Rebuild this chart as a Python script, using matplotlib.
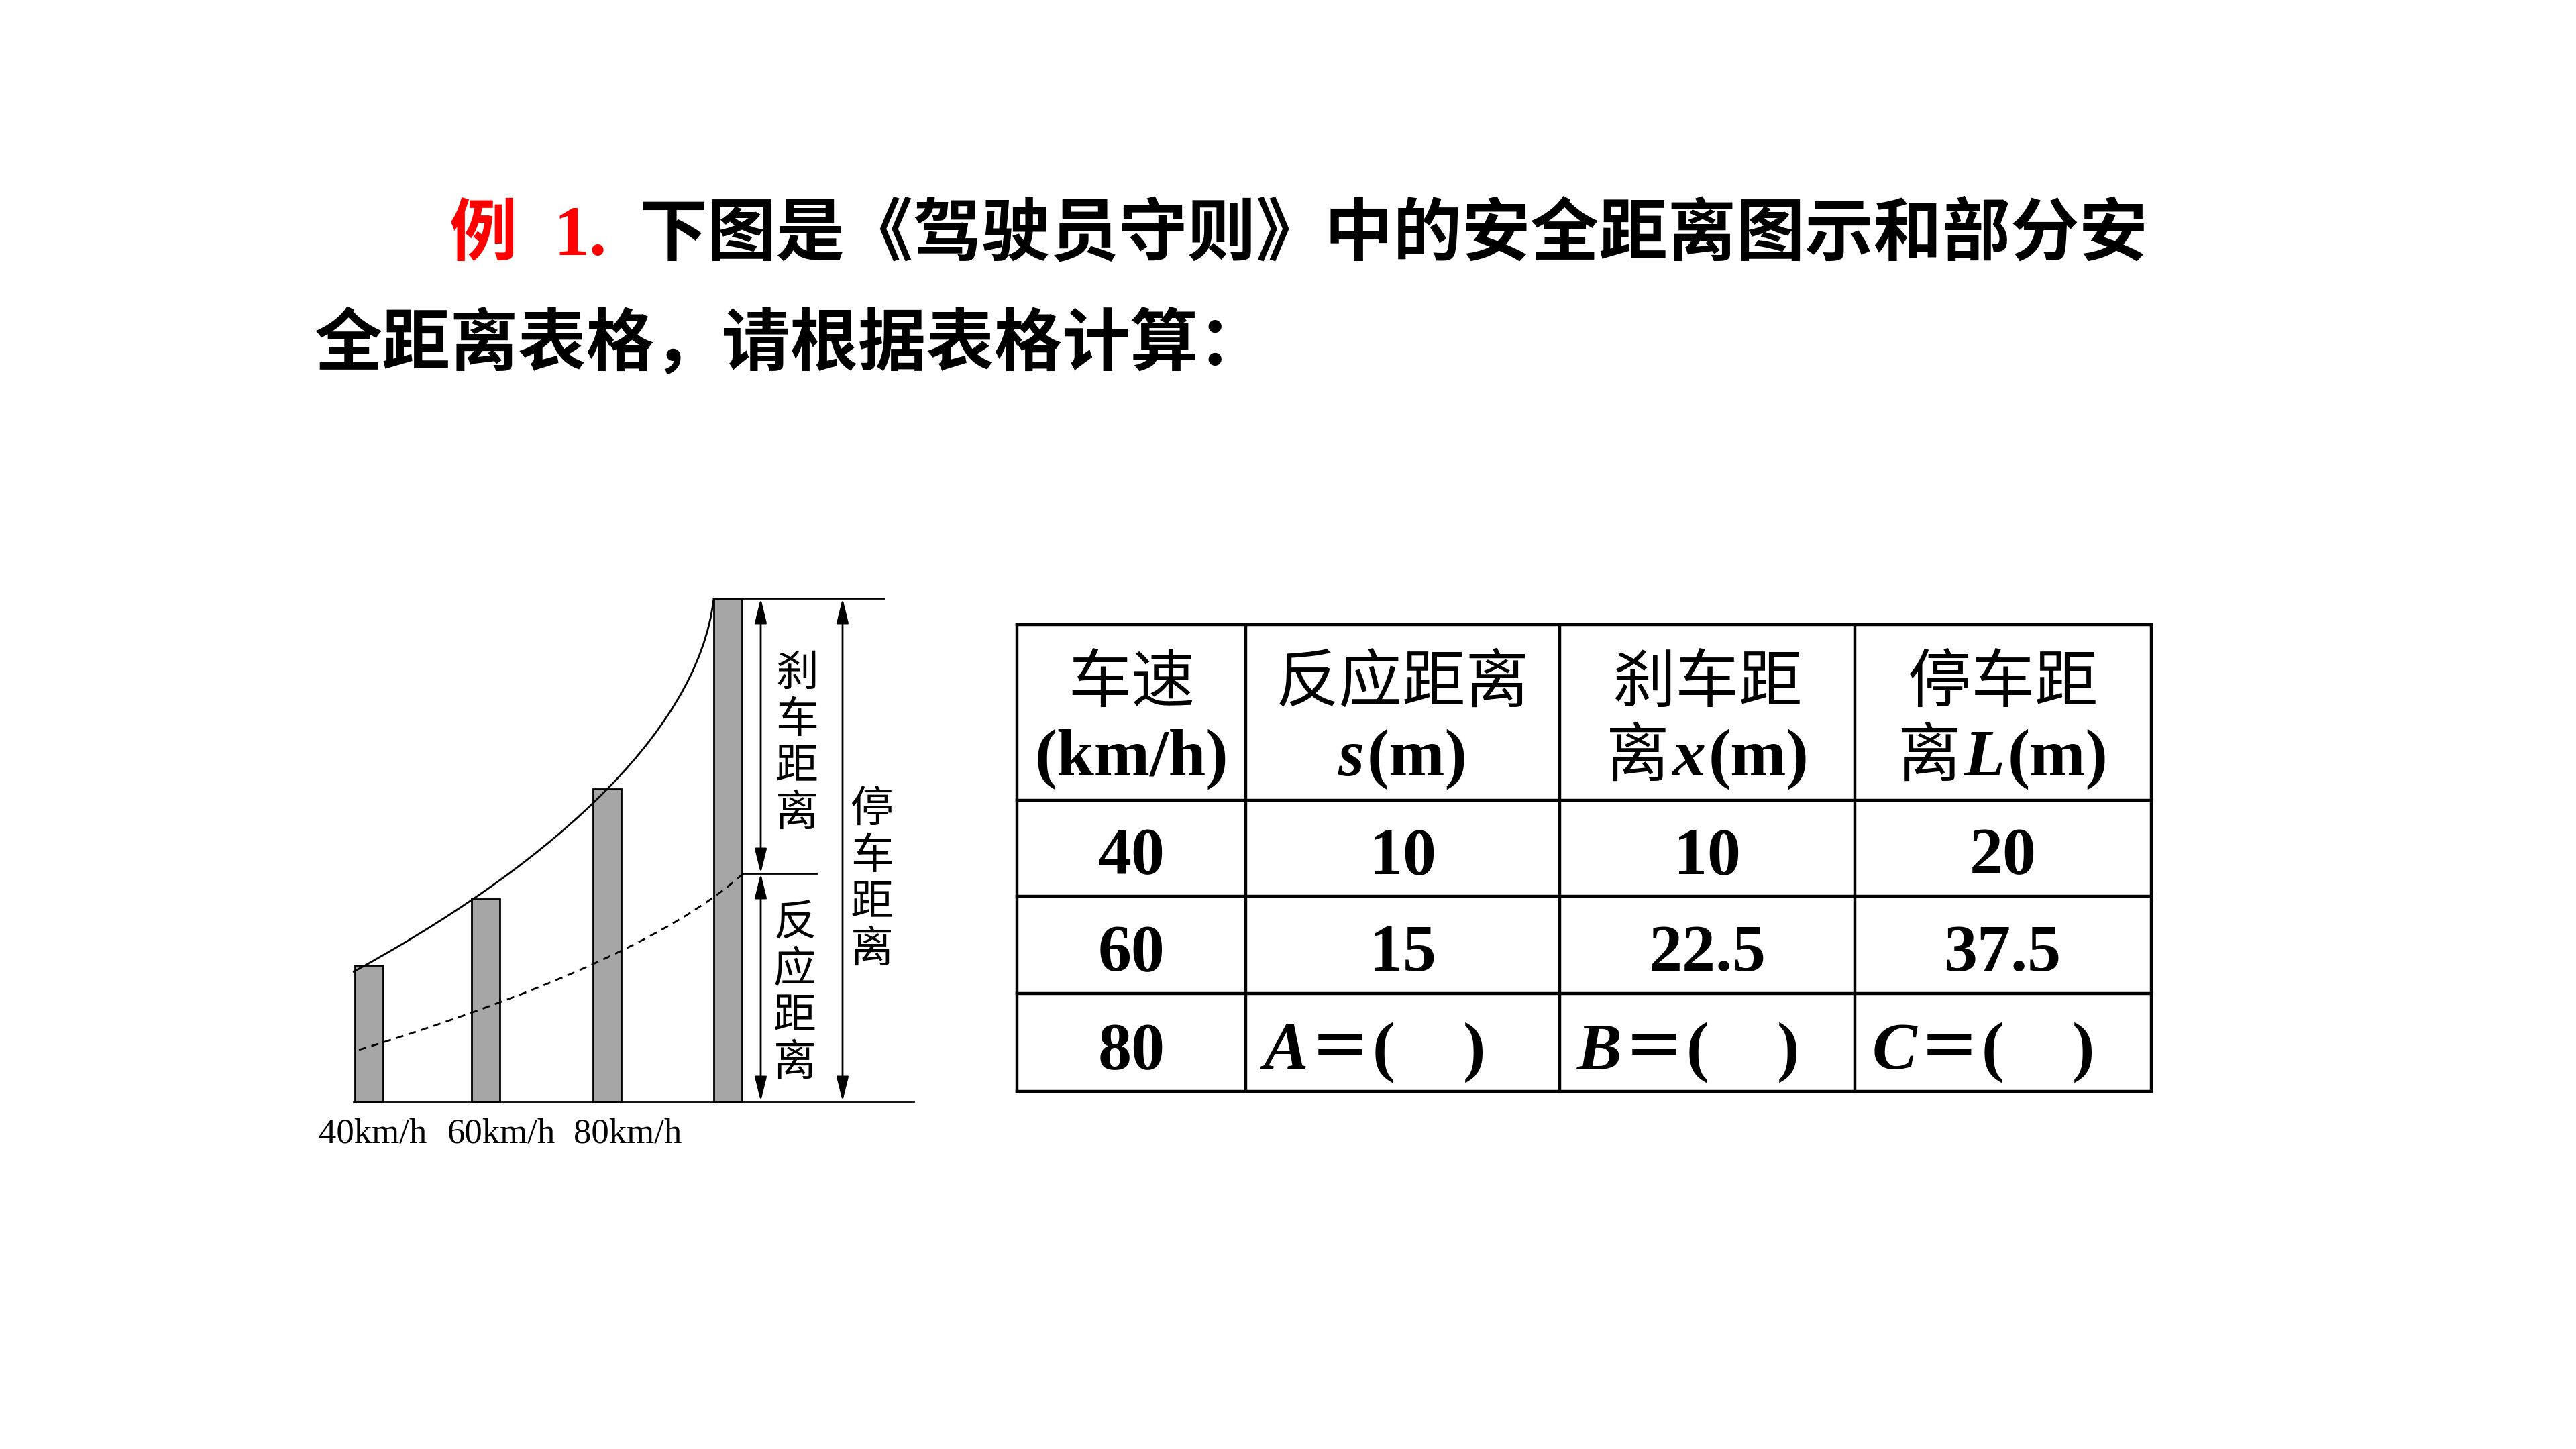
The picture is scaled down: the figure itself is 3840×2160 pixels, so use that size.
import matplotlib
matplotlib.use('Agg')
import matplotlib.pyplot as plt
from matplotlib.path import Path
from matplotlib.patches import PathPatch

# ---- data ----
bar_labels = ['40km/h', '60km/h', '80km/h']
bar_heights = [20.3, 30.2, 46.6, 75.0]          # diagram units (1 unit = 10 px)
stop_curve = [(2.6, 19.3), (30.0, 34.2), (54.0, 54.2), (56.4, 75.0)]
react_curve = [(3.5, 7.7), (28.0, 15.2), (50.0, 24.2), (60.8, 34.0)]
brake_label = '刹车距离'
react_label = '反应距离'
stop_label = '停车距离'

speed_col = ['40', '60', '80']
reaction_col = ['10', '15', None]
braking_col = ['10', '22.5', None]
stopping_col = ['20', '37.5', None]
unknown_names = [None, 'A', 'B', 'C']

title_tag = '例'
title_num = '1.'
title_line1 = '下图是《驾驶员守则》中的安全距离图示和部分安'
title_line2 = '全距离表格，请根据表格计算：'

# ---- fonts ----
CJK = ['Noto Sans CJK SC', 'DejaVu Sans']
SERIF = ['Liberation Serif', 'DejaVu Serif']
cjk_head = dict(family=CJK, fontsize=68)
ser_b = dict(family=SERIF, fontweight='bold', fontsize=72)
ser_bi = dict(family=SERIF, fontweight='bold', fontstyle='italic', fontsize=72)
cjk_eq = dict(family=CJK, fontweight='bold', fontsize=66)

header_runs = [
    ([('车速', cjk_head)], [('(km/h)', ser_b)]),
    ([('反应距离', cjk_head)], [('s', ser_bi), ('(m)', ser_b)]),
    ([('刹车距', cjk_head)], [('离', cjk_head), ('x', ser_bi), ('(m)', ser_b)]),
    ([('停车距', cjk_head)], [('离', cjk_head), ('L', ser_bi), ('(m)', ser_b)]),
]

fig = plt.figure(figsize=(38.4, 21.6), dpi=100)
fig.patch.set_facecolor('white')
ax = fig.add_axes([0, 0, 1, 1])
ax.set_xlim(0, 3840)
ax.set_ylim(2160, 0)
ax.axis('off')
renderer = fig.canvas.get_renderer()


def put_runs(x, y, runs, align='center', pad=4):
    items = [ax.text(0, y, s, va='baseline', ha='left', **p) for s, p in runs]
    ws = [t.get_window_extent(renderer).width for t in items]
    cur = x - (sum(ws) + pad * (len(ws) - 1)) / 2 if align == 'center' else x
    for t, w in zip(items, ws):
        t.set_x(cur)
        cur += w + pad
    return cur


# title
ax.text(669, 380, title_tag, color='#ff0000', fontweight='bold', family=CJK,
        fontsize=73, va='baseline')
ax.text(825, 380, title_num, color='#ff0000', fontweight='bold', family=SERIF,
        fontsize=76, va='baseline')
ax.text(953, 380, title_line1, color='black', fontweight='bold', family=CJK,
        fontsize=73.6, va='baseline')
ax.text(468, 544, title_line2, color='black', fontweight='bold', family=CJK,
        fontsize=73, va='baseline')

# ---- diagram ----
ax2 = fig.add_axes([500 / 3840, (2160 - 1660) / 2160, 900 / 3840, 800 / 2160])
ax2.set_xlim(0, 90)
ax2.set_ylim(-1.8, 78.2)
ax2.axis('off')

bar_x = [5.0, 22.4, 40.5, 58.5]
ax2.bar(bar_x, bar_heights, width=4.2, color='#a6a6a6', edgecolor='black',
        linewidth=2, zorder=2)

lk = dict(color='black', lw=2, clip_on=False, zorder=3)
ax2.plot([2.7, 86.2], [0, 0], **lk)
ax2.plot([56.4, 81.8], [bar_heights[3], bar_heights[3]], **lk)
ax2.plot([60.6, 71.7], [34.0, 34.0], **lk)

codes = [Path.MOVETO, Path.CURVE4, Path.CURVE4, Path.CURVE4]
ax2.add_patch(PathPatch(Path(stop_curve, codes), fill=False, lw=2,
                        edgecolor='black', zorder=4))
ax2.add_patch(PathPatch(Path(react_curve, codes), fill=False, lw=2,
                        edgecolor='black', linestyle=(0, (4, 3)), zorder=4))

arrow = dict(arrowstyle='<|-|>,head_length=0.9,head_width=0.22', color='black',
             lw=2, mutation_scale=25, shrinkA=0, shrinkB=0)
ax2.annotate('', xy=(63.4, bar_heights[3]), xytext=(63.4, 34.0), arrowprops=arrow)
ax2.annotate('', xy=(63.4, 34.0), xytext=(63.4, 0), arrowprops=arrow)
ax2.annotate('', xy=(75.6, bar_heights[3]), xytext=(75.6, 0), arrowprops=arrow)

for lab, x0, y0 in [(brake_label, 68.8, 63.8), (react_label, 68.5, 26.6),
                    (stop_label, 80.0, 43.5)]:
    for i, ch in enumerate(lab):
        ax2.text(x0, y0 - i * 6.95, ch, family=CJK, fontsize=46,
                 ha='center', va='center')

for lab, x in zip(bar_labels, [5.6, 24.7, 43.6]):
    ax2.text(x, -4.8, lab, family=SERIF, fontsize=38, ha='center', va='center')

# ---- table ----
col_edges = [1516, 1857, 2325, 2765, 3207]
row_edges = [931, 1193, 1336, 1481, 1627]
for x in col_edges:
    ax.plot([x, x], [row_edges[0], row_edges[-1]], color='black', lw=3.2,
            solid_capstyle='projecting')
for y in row_edges:
    ax.plot([col_edges[0], col_edges[-1]], [y, y], color='black', lw=3.2,
            solid_capstyle='projecting')

centers = [(a + b) / 2 for a, b in zip(col_edges[:-1], col_edges[1:])]
for cx, (l1, l2) in zip(centers, header_runs):
    put_runs(cx, 1046, l1)
    put_runs(cx, 1156, l2)

columns = [speed_col, reaction_col, braking_col, stopping_col]
for r in range(3):
    base = row_edges[r + 2] - 34
    for c, col in enumerate(columns):
        if col[r] is not None:
            ax.text(centers[c], base, col[r], va='baseline', ha='center', **ser_b)
        else:
            x0 = col_edges[c] + 26
            end = put_runs(x0, base, [(unknown_names[c], ser_bi), ('＝', cjk_eq),
                                      ('(', ser_b)], align='left', pad=2)
            ax.text(end + 100, base, ')', va='baseline', ha='left', **ser_b)

fig.savefig('out.png', dpi=100, facecolor='white')
